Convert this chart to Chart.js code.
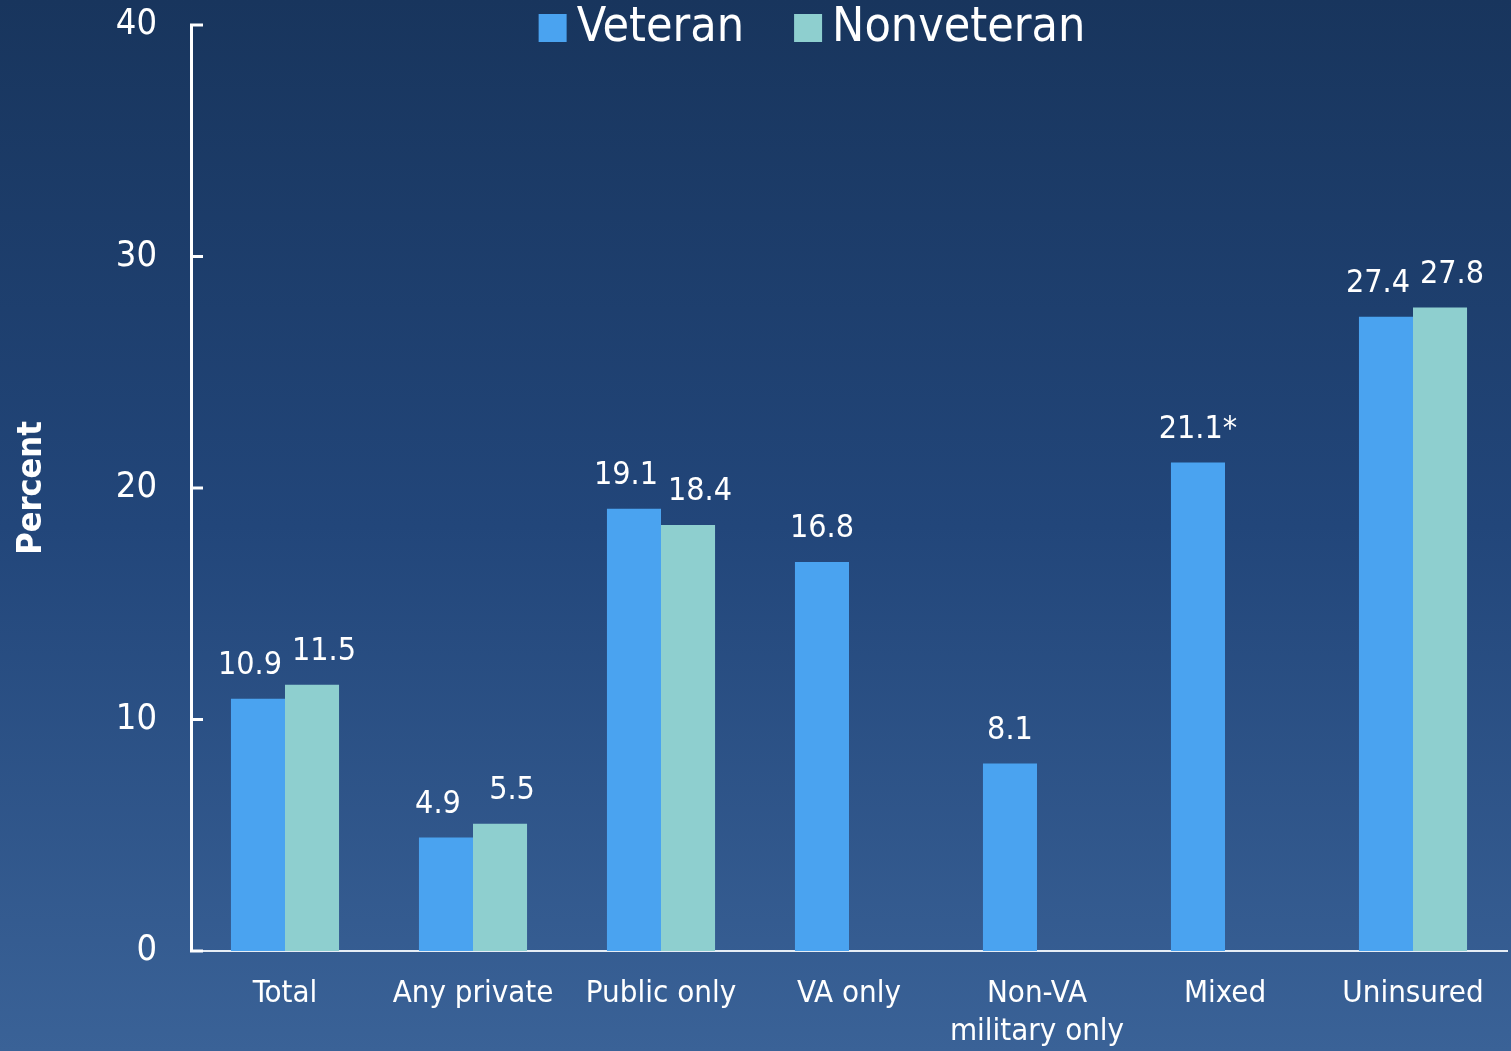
<!DOCTYPE html>
<html>
<head>
<meta charset="utf-8">
<title>Veteran vs Nonveteran</title>
<script src="https://cdn.jsdelivr.net/npm/chart.js@4.4.1/dist/chart.umd.min.js"></script>
<style>
    html, body {
        margin: 0;
        padding: 0;
        overflow: hidden;
        background: linear-gradient(to bottom, #18355d 0%, #22467a 50%, #3a6297 100%);
        width: 1511px;
        height: 1051px;
    }
    #chart { display: block; }
</style>
</head>
<body>
<canvas id="chart" width="1511" height="1051"></canvas>
<script>
// Chart data
const categories = ['Total', 'Any private', 'Public only', 'VA only', ['Non-VA', 'military only'], 'Mixed', 'Uninsured'];
const veteranValues = [10.9, 4.9, 19.1, 16.8, 8.1, 21.1, 27.4];
const nonveteranValues = [11.5, 5.5, 18.4, null, null, null, 27.8];
const veteranNotes = ['', '', '', '', '', '*', ''];
const yTicks = [0, 10, 20, 30, 40];

const FONT = "'DejaVu Sans Condensed', 'DejaVu Sans', sans-serif";
const VET_COLOR = '#4aa3f0';
const NONVET_COLOR = '#8ecfcf';

// Draw short tick marks pointing into the plot area
const innerTicks = {
    id: 'innerTicks',
    afterDraw(chart) {
        const ctx = chart.ctx;
        const y = chart.scales.y;
        const left = chart.chartArea.left;
        ctx.save();
        ctx.strokeStyle = '#ffffff';
        ctx.lineWidth = 3;
        yTicks.forEach(v => {
            const py = y.getPixelForValue(v);
            ctx.beginPath();
            ctx.moveTo(left - 1, py);
            ctx.lineTo(left + 12, py);
            ctx.stroke();
        });
        ctx.restore();
    }
};

// Value labels above each bar
const valueLabels = {
    id: 'valueLabels',
    afterDatasetsDraw(chart) {
        const ctx = chart.ctx;
        ctx.save();
        ctx.fillStyle = '#ffffff';
        ctx.font = '32px ' + FONT;
        ctx.textAlign = 'center';
        ctx.textBaseline = 'middle';
        chart.data.datasets.forEach((ds, di) => {
            const meta = chart.getDatasetMeta(di);
            meta.data.forEach((bar, i) => {
                const v = ds.data[i];
                if (v === null || v === undefined) return;
                const paired = veteranValues[i] !== null && nonveteranValues[i] !== null;
                let dx = 0;
                if (paired) dx = di === 0 ? -8 : 12;
                let text = v.toFixed(1);
                if (di === 0) text += veteranNotes[i];
                ctx.fillText(text, bar.x + dx, bar.y - 33);
            });
        });
        ctx.restore();
    }
};

// Legend across the top
const topLegend = {
    id: 'topLegend',
    afterDraw(chart) {
        const ctx = chart.ctx;
        ctx.save();
        ctx.font = '48px ' + FONT;
        ctx.textBaseline = 'middle';
        const items = chart.data.datasets.map(ds => ({ label: ds.label, color: ds.backgroundColor }));
        const box = 28, gap = 10, spacing = 50;
        let total = 0;
        items.forEach((it, i) => {
            total += box + gap + ctx.measureText(it.label).width;
            if (i < items.length - 1) total += spacing;
        });
        let x = 812 - total / 2;
        const cy = 28;
        items.forEach(it => {
            ctx.fillStyle = it.color;
            ctx.fillRect(x, cy - box / 2, box, box);
            x += box + gap;
            ctx.fillStyle = '#ffffff';
            ctx.fillText(it.label, x, cy + 1);
            x += ctx.measureText(it.label).width + spacing;
        });
        ctx.restore();
    }
};

const ctx = document.getElementById('chart').getContext('2d');
const myChart = new Chart(ctx, {
    type: 'bar',
    data: {
        labels: categories,
        datasets: [
            {
                label: 'Veteran',
                data: veteranValues,
                backgroundColor: VET_COLOR,
                borderWidth: 0,
                barPercentage: 1,
                categoryPercentage: 0.575
            },
            {
                label: 'Nonveteran',
                data: nonveteranValues,
                backgroundColor: NONVET_COLOR,
                borderWidth: 0,
                barPercentage: 1,
                categoryPercentage: 0.575
            }
        ]
    },
    options: {
        responsive: false,
        animation: false,
        layout: { padding: { top: 25, right: 4, left: 12, bottom: 0 } },
        plugins: {
            legend: { display: false },
            tooltip: { enabled: false }
        },
        scales: {
            x: {
                grid: { display: false, drawTicks: false },
                border: { display: true, color: '#e6edf5', width: 2 },
                ticks: {
                    color: '#ffffff',
                    font: { family: FONT, size: 31, lineHeight: 1.22 },
                    padding: 24,
                    maxRotation: 0,
                    autoSkip: false
                },
                afterFit(scale) { scale.height = 100; }
            },
            y: {
                min: 0,
                max: 40,
                grid: { display: false, drawTicks: false },
                border: { display: true, color: '#ffffff', width: 3 },
                afterBuildTicks(scale) { scale.ticks = yTicks.map(v => ({ value: v })); },
                ticks: {
                    color: '#ffffff',
                    font: { family: FONT, size: 36 },
                    padding: 34
                },
                title: {
                    display: true,
                    text: 'Percent',
                    color: '#ffffff',
                    font: { family: FONT, size: 34, weight: 'bold' },
                    padding: 0
                },
                afterFit(scale) {
                    scale.width = 179;
                    scale.paddingTop = 0;
                    scale.paddingBottom = 0;
                }
            }
        }
    },
    plugins: [innerTicks, valueLabels, topLegend]
});
</script>
</body>
</html>
